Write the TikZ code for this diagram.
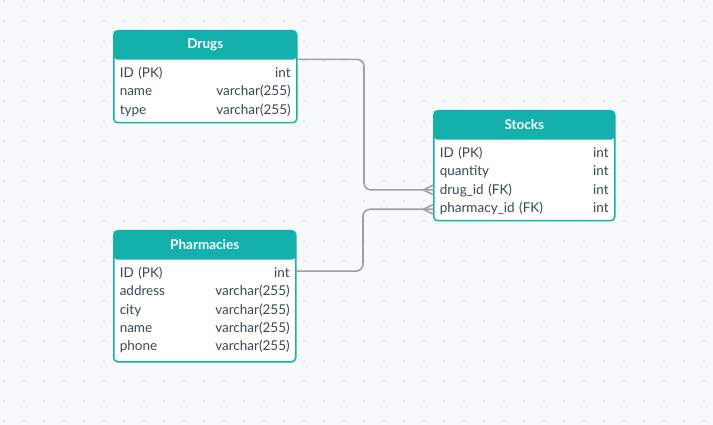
\documentclass[tikz,border=0pt]{standalone}
\usepackage{fontspec}
\setmainfont{Lato}
\usetikzlibrary{positioning}

\definecolor{bgcol}{HTML}{F8F9FB}
\definecolor{dotcol}{HTML}{DDE0E5}
\definecolor{tealcol}{HTML}{14B0AB}
\definecolor{txtcol}{HTML}{3B4757}
\definecolor{linkcol}{HTML}{A0A0A0}

\begin{document}
\begin{tikzpicture}[
        x=1pt, y=-1pt,
        tblframe/.style={rectangle, draw=tealcol, line width=1.5pt, fill=white, rounded corners=4pt, anchor=north west,
            path picture={\fill[tealcol] (path picture bounding box.north west) rectangle ([yshift=-29pt]path picture bounding box.north east);}},
        tblhead/.style={rectangle, minimum height=29pt, inner sep=0pt, text=white, font=\fontsize{13.5}{15}\selectfont\bfseries},
        row/.style={rectangle, inner xsep=6pt, inner ysep=0pt, minimum height=18pt, text height=9.5pt, text depth=3pt,
            text width=#1, align=left, text=txtcol, font=\fontsize{13.5}{15}\selectfont},
        link/.style={draw=linkcol, line width=1.6pt, rounded corners=7pt}
        ]
        \useasboundingbox (0,0) rectangle (713,425);
        \fill[bgcol] (0,0) rectangle (713,425);
        \foreach \x in {4,24,...,704}
            \foreach \y in {1,21,...,421}
                \fill[dotcol] (\x,\y) circle (1.1pt);

        \node[tblframe, minimum width=183pt, minimum height=92pt]   (drugs)     at (113,30)     {};
        \node[tblhead, minimum width=183pt]     (drugs-h)   [below=0pt of drugs.north]      {Drugs};
        \node[row=171pt]    (drugs-r1)  [below=5.5pt of drugs-h]    {ID (PK)\hfill int};
        \node[row=171pt]    (drugs-r2)  [below=0pt of drugs-r1]     {name\hfill varchar(255)};
        \node[row=171pt]    (drugs-r3)  [below=0pt of drugs-r2]     {type\hfill varchar(255)};

        \node[tblframe, minimum width=181pt, minimum height=110pt]  (stocks)    at (433,110)    {};
        \node[tblhead, minimum width=181pt]     (stocks-h)  [below=0pt of stocks.north]     {Stocks};
        \node[row=169pt]    (stocks-r1) [below=5.5pt of stocks-h]   {ID (PK)\hfill int};
        \node[row=169pt]    (stocks-r2) [below=0pt of stocks-r1]    {quantity\hfill int};
        \node[row=169pt]    (stocks-r3) [below=0pt of stocks-r2]    {drug\_id (FK)\hfill int};
        \node[row=169pt]    (stocks-r4) [below=0pt of stocks-r3]    {pharmacy\_id (FK)\hfill int};

        \node[tblframe, minimum width=182pt, minimum height=131pt]  (pharm)     at (113,230)    {};
        \node[tblhead, minimum width=182pt]     (pharm-h)   [below=0pt of pharm.north]      {Pharmacies};
        \node[row=170pt]    (pharm-r1)  [below=5.5pt of pharm-h]    {ID (PK)\hfill int};
        \node[row=170pt]    (pharm-r2)  [below=0pt of pharm-r1]     {address\hfill varchar(255)};
        \node[row=170pt]    (pharm-r3)  [below=0pt of pharm-r2]     {city\hfill varchar(255)};
        \node[row=170pt]    (pharm-r4)  [below=0pt of pharm-r3]     {name\hfill varchar(255)};
        \node[row=170pt]    (pharm-r5)  [below=0pt of pharm-r4]     {phone\hfill varchar(255)};

        \draw[link] (drugs-h.south east) -- ++(67pt,0) |- ([yshift=1pt]stocks-r3.west);
        \draw[link] ([yshift=3pt]pharm-r1.east) -- ++(67pt,0) |- (stocks-r4.west);
        \draw[link] ([xshift=-10pt,yshift=1pt]stocks-r3.west) -- ([yshift=6pt]stocks-r3.west)
        ([xshift=-10pt,yshift=1pt]stocks-r3.west) -- ([yshift=-4pt]stocks-r3.west);
        \draw[link] ([xshift=-10pt]stocks-r4.west) -- ([yshift=5pt]stocks-r4.west)
        ([xshift=-10pt]stocks-r4.west) -- ([yshift=-5pt]stocks-r4.west);
    \end{tikzpicture}
\end{document}
